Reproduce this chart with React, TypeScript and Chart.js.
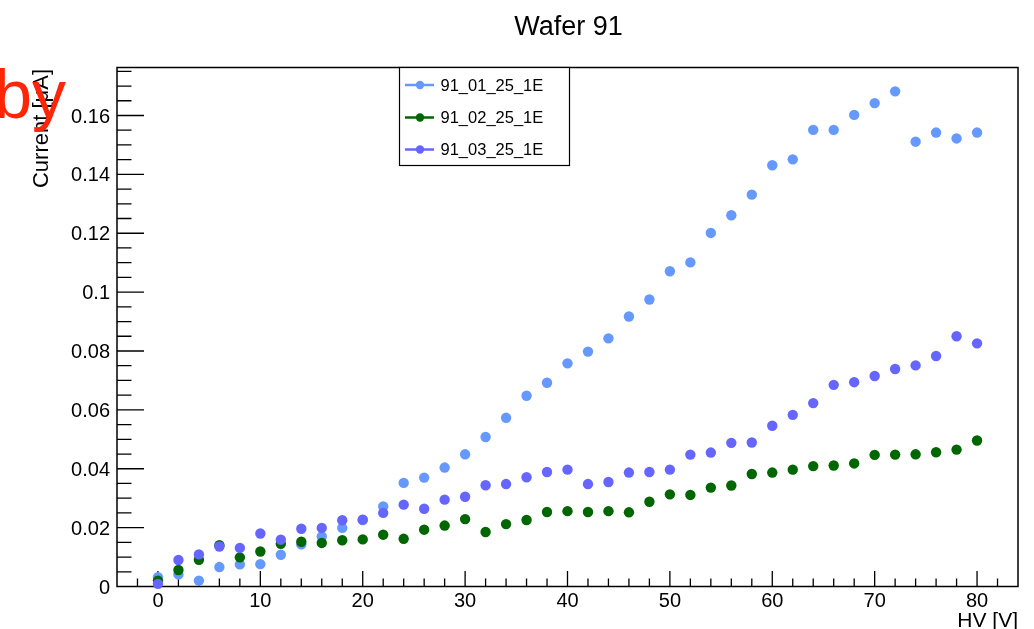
import React, { useEffect, useRef } from "react";
import { Chart, registerables } from "chart.js";

Chart.register(...registerables);

// Bias voltage steps (V)
const hv = [
  0, 2, 4, 6, 8, 10, 12, 14, 16, 18, 20, 22, 24, 26, 28, 30, 32, 34, 36, 38, 40,
  42, 44, 46, 48, 50, 52, 54, 56, 58, 60, 62, 64, 66, 68, 70, 72, 74, 76, 78, 80,
];

// Leakage current per sensor (uA)
const current_91_01 = [
  0.0032, 0.0041, 0.0020, 0.0066, 0.0075, 0.0076, 0.0108, 0.0143, 0.0170, 0.0199,
  0.0226, 0.0272, 0.0352, 0.0370, 0.0404, 0.0449, 0.0508, 0.0573, 0.0648, 0.0692,
  0.0758, 0.0798, 0.0843, 0.0917, 0.0975, 0.1071, 0.1101, 0.1201, 0.1261, 0.1331,
  0.1431, 0.1451, 0.1551, 0.1551, 0.1602, 0.1642, 0.1682, 0.1511, 0.1542, 0.1522,
  0.1542,
];
const current_91_02 = [
  0.0020, 0.0056, 0.0091, 0.0140, 0.0099, 0.0119, 0.0145, 0.0152, 0.0148, 0.0157,
  0.0160, 0.0176, 0.0162, 0.0193, 0.0207, 0.0229, 0.0185, 0.0212, 0.0226, 0.0253,
  0.0256, 0.0253, 0.0256, 0.0252, 0.0288, 0.0313, 0.0311, 0.0336, 0.0343, 0.0382,
  0.0387, 0.0397, 0.0409, 0.0411, 0.0418, 0.0447, 0.0448, 0.0449, 0.0456, 0.0465,
  0.0496,
];
const current_91_03 = [
  0.0009, 0.0090, 0.0109, 0.0136, 0.0131, 0.0180, 0.0159, 0.0196, 0.0199, 0.0225,
  0.0227, 0.0250, 0.0278, 0.0264, 0.0295, 0.0305, 0.0344, 0.0348, 0.0371, 0.0389,
  0.0397, 0.0348, 0.0355, 0.0387, 0.0389, 0.0397, 0.0448, 0.0455, 0.0488, 0.0489,
  0.0546, 0.0583, 0.0623, 0.0685, 0.0694, 0.0715, 0.0739, 0.0751, 0.0783, 0.0850,
  0.0826,
];

const seriesNames = ["91_01_25_1E", "91_02_25_1E", "91_03_25_1E"];
const seriesColors = ["#6699ff", "#006600", "#6666ff"];

const xTickValues = [0, 10, 20, 30, 40, 50, 60, 70, 80];
const yTickValues = [0, 0.02, 0.04, 0.06, 0.08, 0.1, 0.12, 0.14, 0.16];
const yTickLabels = ["0", "0.02", "0.04", "0.06", "0.08", "0.1", "0.12", "0.14", "0.16"];

const FONT = '"Liberation Sans", Arial, Helvetica, sans-serif';

// ROOT-style frame: box, inward ticks, labels, titles and legend
const rootStyle = {
  id: "rootStyle",
  beforeDatasetsDraw(chart: any) {
    const ctx = chart.ctx;
    const { left, right, top, bottom } = chart.chartArea;
    const xs = chart.scales.x;
    const ys = chart.scales.y;
    ctx.save();
    ctx.strokeStyle = "#000";
    ctx.lineWidth = 1.5;
    ctx.strokeRect(left, top, right - left, bottom - top);

    // x ticks: major every 10, minor every 2
    ctx.lineWidth = 1.3;
    ctx.beginPath();
    for (let v = -4; v <= 84; v += 2) {
      const px = xs.getPixelForValue(v);
      if (px <= left + 0.5 || px >= right - 0.5) continue;
      const len = v % 10 === 0 ? 15.5 : 8;
      ctx.moveTo(px, bottom);
      ctx.lineTo(px, bottom - len);
    }
    // y ticks: major every 0.02, minor every 0.005
    for (let i = 0; i <= 35; i++) {
      const v = i * 0.005;
      const py = ys.getPixelForValue(v);
      if (py <= top + 0.5 || py >= bottom - 0.5) continue;
      const len = i % 4 === 0 ? 27 : 14.5;
      ctx.moveTo(left, py);
      ctx.lineTo(left + len, py);
    }
    ctx.stroke();

    ctx.fillStyle = "#000";
    ctx.font = `20px ${FONT}`;
    ctx.textAlign = "center";
    ctx.textBaseline = "alphabetic";
    xTickValues.forEach((v) => {
      ctx.fillText(String(v), xs.getPixelForValue(v), 607);
    });
    ctx.textAlign = "right";
    ctx.textBaseline = "middle";
    yTickValues.forEach((v, i) => {
      ctx.fillText(yTickLabels[i], 110, ys.getPixelForValue(v) + 1.5);
    });
    ctx.restore();
  },
  afterDraw(chart: any) {
    const ctx = chart.ctx;
    const { right, top } = chart.chartArea;
    ctx.save();
    ctx.fillStyle = "#000";

    // title
    ctx.font = `27px ${FONT}`;
    ctx.textAlign = "center";
    ctx.textBaseline = "alphabetic";
    ctx.fillText("Wafer 91", 568.5, 35);

    // x axis title
    ctx.font = `21px ${FONT}`;
    ctx.textAlign = "right";
    ctx.fillText("HV [V]", right, 627);

    // y axis title
    ctx.save();
    ctx.font = `22px ${FONT}`;
    ctx.translate(48, top + 1.5);
    ctx.rotate(-Math.PI / 2);
    ctx.textAlign = "right";
    ctx.fillText("Current [\u03bcA]", 0, 0);
    ctx.restore();

    // legend
    const bx = 399.5, by = top, bw = 170, bh = 98;
    ctx.fillStyle = "#fff";
    ctx.fillRect(bx, by, bw, bh);
    ctx.strokeStyle = "#000";
    ctx.lineWidth = 1.2;
    ctx.strokeRect(bx, by, bw, bh);
    const rows = [85, 117.5, 149.5];
    ctx.font = `16.5px ${FONT}`;
    ctx.textAlign = "left";
    ctx.textBaseline = "middle";
    seriesNames.forEach((name, i) => {
      const ry = rows[i];
      ctx.strokeStyle = seriesColors[i];
      ctx.lineWidth = 2.5;
      ctx.beginPath();
      ctx.moveTo(405, ry);
      ctx.lineTo(434, ry);
      ctx.stroke();
      ctx.fillStyle = seriesColors[i];
      ctx.beginPath();
      ctx.arc(420, ry, 4.2, 0, Math.PI * 2);
      ctx.fill();
      ctx.fillStyle = "#000";
      ctx.fillText(name, 440.5, ry + 1);
    });

    // red overlay text
    ctx.fillStyle = "rgb(255, 38, 8)";
    ctx.font = `68px ${FONT}`;
    ctx.textAlign = "right";
    ctx.textBaseline = "alphabetic";
    ctx.fillText("by", 66, 118);
    ctx.restore();
  },
};

export default function App() {
  const canvasRef = useRef<HTMLCanvasElement | null>(null);

  useEffect(() => {
    const canvas = canvasRef.current;
    if (!canvas) return;
    const series = [current_91_01, current_91_02, current_91_03];
    const chart = new Chart(canvas, {
      type: "scatter",
      data: {
        datasets: series.map((vals, i) => ({
          label: seriesNames[i],
          data: hv.map((x, j) => ({ x, y: vals[j] })),
          backgroundColor: seriesColors[i],
          borderColor: seriesColors[i],
          pointRadius: 5.2,
          pointBorderWidth: 0,
          showLine: false,
          clip: false as any,
          order: 2 - i,
        })),
      },
      options: {
        responsive: false,
        animation: false,
        events: [],
        layout: {
          autoPadding: false,
          padding: { top: 67.5, right: 16, left: 0, bottom: 0 },
        },
        plugins: {
          legend: { display: false },
          title: { display: false },
          tooltip: { enabled: false },
        },
        scales: {
          x: {
            type: "linear",
            min: -4,
            max: 84,
            grid: { display: false },
            border: { display: false },
            ticks: { display: false },
            afterFit: (s: any) => {
              s.height = 42.5;
            },
          },
          y: {
            type: "linear",
            min: 0,
            max: 0.1763,
            grid: { display: false },
            border: { display: false },
            ticks: { display: false },
            afterFit: (s: any) => {
              s.width = 117;
            },
          },
        },
      },
      plugins: [rootStyle],
    });
    return () => chart.destroy();
  }, []);

  return (
    <div style={{ position: "fixed", left: 0, top: 0, width: 1034, height: 629, background: "#fff" }}>
      <canvas ref={canvasRef} width={1034} height={629} style={{ display: "block" }} />
    </div>
  );
}
